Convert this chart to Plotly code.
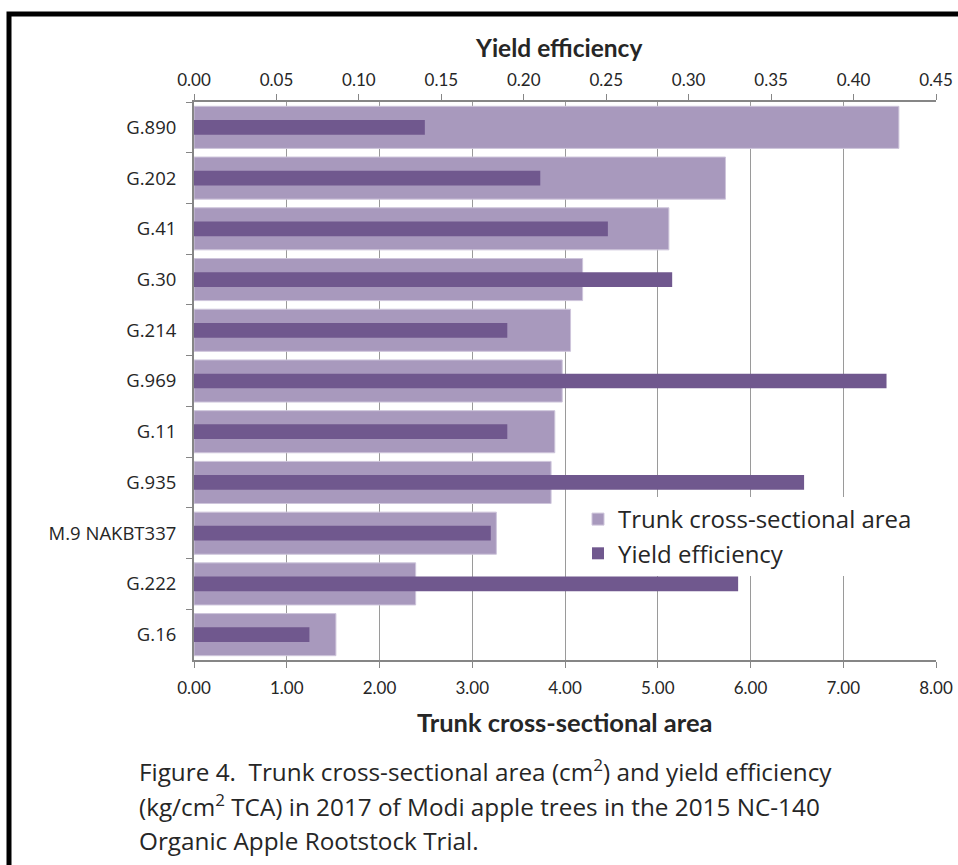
import plotly.graph_objects as go

# Rootstocks, listed top to bottom
rootstocks = ["G.890", "G.202", "G.41", "G.30", "G.214", "G.969",
              "G.11", "G.935", "M.9 NAKBT337", "G.222", "G.16"]

# Trunk cross-sectional area (cm2), bottom axis
tca = [7.60, 5.73, 5.12, 4.19, 4.06, 3.97, 3.89, 3.85, 3.26, 2.39, 1.53]

# Yield efficiency (kg/cm2 TCA), top axis
yield_eff = [0.140, 0.210, 0.251, 0.290, 0.190, 0.420, 0.190, 0.370, 0.180, 0.330, 0.070]

tca_ticks = [0, 1, 2, 3, 4, 5, 6, 7, 8]
ye_ticks = [0, 0.05, 0.10, 0.15, 0.20, 0.25, 0.30, 0.35, 0.40, 0.45]

caption_lines = [
    "Figure 4.  Trunk cross-sectional area (cm<sup>2</sup>) and yield efficiency",
    "(kg/cm<sup>2</sup> TCA) in 2017 of Modi apple trees in the 2015 NC-140",
    "Organic Apple Rootstock Trial.",
]

LIGHT = "#A899BD"
DARK = "#70588E"
AXIS = "#868686"
TEXT = "#262626"
SANS = "Lato, 'Open Sans', sans-serif"
WIDE = "'Open Sans', Lato, sans-serif"

L, R, T, B = 194, 22, 102, 205
PW = 958 - L - R
PH = 865 - T - B


def px(xp):
    return (xp - L) / PW


def py(yp):
    return (865 - B - yp) / PH


fig = go.Figure()
fig.add_trace(go.Bar(
    y=rootstocks, x=tca, orientation="h", name="Trunk cross-sectional area",
    marker=dict(color=LIGHT, line=dict(color="#CEC5DB", width=1)),
    width=0.83, xaxis="x", yaxis="y",
))
fig.add_trace(go.Bar(
    y=rootstocks, x=yield_eff, orientation="h", name="Yield efficiency",
    marker=dict(color=DARK, line=dict(width=0)),
    width=0.29, xaxis="x2", yaxis="y",
))

fig.update_layout(
    width=958, height=865,
    margin=dict(l=L, r=R, t=T, b=B),
    paper_bgcolor="white", plot_bgcolor="white",
    barmode="overlay",
    font=dict(family=SANS, color=TEXT),
    xaxis=dict(
        range=[0, 8], tickvals=tca_ticks, tickformat=".2f",
        showgrid=True, gridcolor="#9A9A9A", gridwidth=1,
        showline=True, linecolor=AXIS, linewidth=2,
        ticks="outside", ticklen=6, tickcolor=AXIS, tickwidth=1,
        ticklabelstandoff=6,
        tickfont=dict(family=SANS, size=17, color=TEXT),
        zeroline=False, fixedrange=True, automargin=False,
    ),
    xaxis2=dict(
        range=[0, 0.45], tickvals=ye_ticks, tickformat=".2f",
        overlaying="x", side="top", anchor="y",
        showgrid=False, showline=True, linecolor=AXIS, linewidth=2,
        ticks="outside", ticklen=6, tickcolor=AXIS, tickwidth=1,
        ticklabelstandoff=1,
        tickfont=dict(family=SANS, size=17, color=TEXT),
        zeroline=False, fixedrange=True, automargin=False,
    ),
    yaxis=dict(
        categoryorder="array", categoryarray=rootstocks,
        autorange="reversed",
        showline=True, linecolor=AXIS, linewidth=2,
        ticks="outside", tickson="boundaries", ticklen=6,
        tickcolor=AXIS, tickwidth=1,
        ticklabelstandoff=12,
        tickfont=dict(family=WIDE, size=18.5, color=TEXT),
        showgrid=False, zeroline=False, fixedrange=True, automargin=False,
    ),
    legend=dict(
        x=px(578), y=py(497),
        xanchor="left", yanchor="top",
        bgcolor="white", borderwidth=0,
        font=dict(family=WIDE, size=24, color=TEXT),
        traceorder="normal",
    ),
    showlegend=True,
)

# Axis titles
fig.add_annotation(
    text="<b>Yield efficiency</b>", xref="paper", yref="paper",
    x=px(558), y=py(47), xanchor="center", yanchor="middle",
    showarrow=False, font=dict(family=SANS, size=24.5, color=TEXT),
)
fig.add_annotation(
    text="<b>Trunk cross-sectional area</b>", xref="paper", yref="paper",
    x=px(565), y=py(722), xanchor="center", yanchor="middle",
    showarrow=False, font=dict(family=SANS, size=25.5, color=TEXT),
)

# Figure caption
for i, line in enumerate(caption_lines):
    fig.add_annotation(
        text=line, xref="paper", yref="paper",
        x=px(137), y=py(770 + 35 * i),
        xanchor="left", yanchor="middle", align="left",
        showarrow=False, font=dict(family=WIDE, size=24.3, color=TEXT),
    )

# Black frame around the figure
fig.add_shape(
    type="rect", xref="paper", yref="paper",
    x0=px(9), x1=px(1010), y0=py(14), y1=py(920),
    line=dict(color="black", width=5), fillcolor="rgba(0,0,0,0)",
)

fig.write_html("out.html")
